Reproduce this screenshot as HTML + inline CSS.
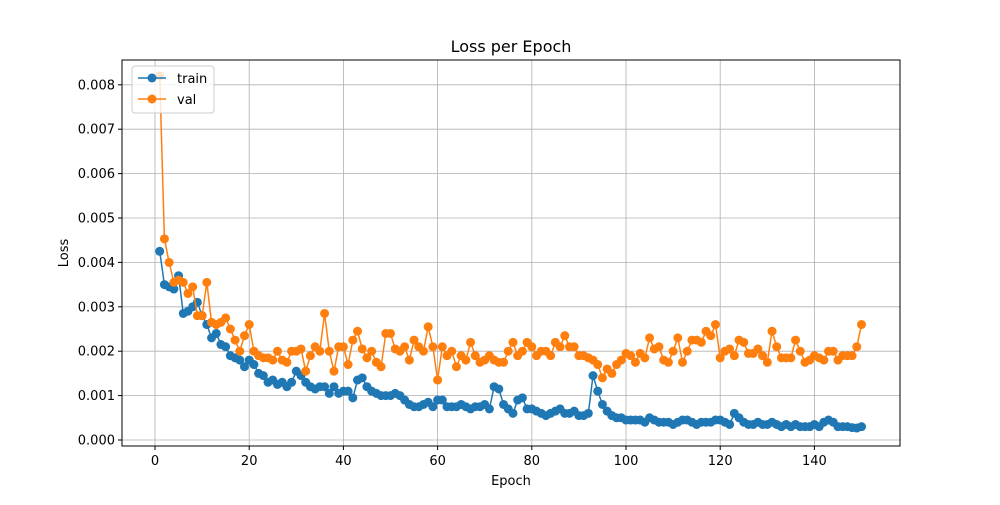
<!DOCTYPE html>
<html><head><meta charset="utf-8"><style>
body{margin:0;background:#fff;font-family:"Liberation Sans","DejaVu Sans",sans-serif}
svg text{font-family:"DejaVu Sans","Liberation Sans",sans-serif;fill:#000}
</style></head><body>
<svg id="chart" width="1000" height="500" xmlns="http://www.w3.org/2000/svg">
<rect width="1000" height="500" fill="#fff"/>
<text x="511" y="52" font-size="16" text-anchor="middle">Loss per Epoch</text>
<g id="grid"></g><g id="axes"></g><g id="series"></g>
<rect x="122" y="60" width="778" height="386" fill="none" stroke="#000" stroke-width="1"/>
<text x="511" y="485" font-size="13" text-anchor="middle">Epoch</text>
<text x="68" y="253" font-size="13" text-anchor="middle" transform="rotate(-90 68 253)">Loss</text>
<g>
<rect x="132" y="66" width="82" height="47" rx="3" fill="#fff" fill-opacity="0.8" stroke="#ccc"/>
<g><line x1="138" y1="78" x2="166" y2="78" stroke="#1f77b4" stroke-width="1.5"/><circle cx="152" cy="78" r="4.5" fill="#1f77b4"/><text x="177" y="83" font-size="13">train</text></g>
<g><line x1="138" y1="99" x2="166" y2="99" stroke="#ff7f0e" stroke-width="1.5"/><circle cx="152" cy="99" r="4.5" fill="#ff7f0e"/><text x="177" y="104" font-size="13">val</text></g>
</g>
</svg>
<script>
const xTicks=[0,20,40,60,80,100,120,140];
const yTicks=[0,0.001,0.002,0.003,0.004,0.005,0.006,0.007,0.008];
const yTickLabels=["0.000","0.001","0.002","0.003","0.004","0.005","0.006","0.007","0.008"];
const train=[.00425,.0035,.00345,.0034,.0037,.00285,.0029,.003,.0031,.0028,
.0026,.0023,.0024,.00215,.0021,.0019,.00185,.0018,.00165,.0018,
.0017,.0015,.00145,.0013,.00135,.00125,.0013,.0012,.0013,.00155,
.00145,.0013,.0012,.00115,.0012,.0012,.00105,.0012,.00105,.0011,
.0011,.00095,.00135,.0014,.0012,.0011,.00105,.001,.001,.001,
.00105,.001,.0009,.0008,.00075,.00075,.0008,.00085,.00075,.0009,
.0009,.00075,.00075,.00075,.0008,.00075,.0007,.00075,.00075,.0008,
.0007,.0012,.00115,.0008,.0007,.0006,.0009,.00095,.0007,.0007,
.00065,.0006,.00055,.0006,.00065,.0007,.0006,.0006,.00065,.00055,
.00055,.0006,.00145,.0011,.0008,.00065,.00055,.0005,.0005,.00045,
.00045,.00045,.00045,.0004,.0005,.00045,.0004,.0004,.0004,.00035,
.0004,.00045,.00045,.0004,.00035,.0004,.0004,.0004,.00045,.00045,
.0004,.00035,.0006,.0005,.0004,.00035,.00035,.0004,.00035,.00035,
.0004,.00035,.0003,.00035,.0003,.00035,.0003,.0003,.0003,.00035,
.0003,.0004,.00045,.0004,.0003,.0003,.0003,.00028,.00027,.0003];
const val=[.0082,.00453,.004,.00355,.0036,.00355,.0033,.00345,.0028,.0028,
.00355,.00265,.0026,.00265,.00275,.0025,.00225,.002,.00235,.0026,
.002,.0019,.00185,.00185,.0018,.002,.0018,.00175,.002,.002,
.00205,.00155,.0019,.0021,.002,.00285,.002,.00155,.0021,.0021,
.0017,.00225,.00245,.00205,.00185,.002,.00175,.00165,.0024,.0024,
.00205,.002,.0021,.0018,.00225,.0021,.002,.00255,.0021,.00135,
.0021,.0019,.002,.00165,.0019,.0018,.0022,.0019,.00175,.0018,
.0019,.0018,.00175,.00175,.002,.0022,.0019,.002,.0022,.0021,
.0019,.002,.002,.0019,.0022,.0021,.00235,.0021,.0021,.0019,
.0019,.00185,.0018,.0017,.0014,.0016,.0015,.0017,.0018,.00195,
.0019,.00175,.00195,.00185,.0023,.00205,.0021,.0018,.00175,.002,
.0023,.00175,.002,.00225,.00225,.0022,.00245,.00235,.0026,.00185,
.002,.00205,.0019,.00225,.0022,.00195,.00195,.00205,.0019,.00175,
.00245,.0021,.00185,.00185,.00185,.00225,.002,.00175,.0018,.0019,
.00185,.0018,.002,.002,.0018,.0019,.0019,.0019,.0021,.0026];
const NS="http://www.w3.org/2000/svg";
const X=e=>155+e*4.71, Y=v=>440-v*44400;
function mk(t,a,p){const el=document.createElementNS(NS,t);for(const k in a)el.setAttribute(k,a[k]);p.appendChild(el);return el;}
const grid=document.getElementById('grid'),axes=document.getElementById('axes'),ser=document.getElementById('series');
xTicks.forEach(t=>{const x=X(t);
 const g=mk('line',{x1:x,x2:x,y1:60,y2:446,stroke:'#b0b0b0','stroke-width':0.8},grid);
 
 
 mk('line',{x1:x,x2:x,y1:446,y2:450,stroke:'#000'},axes);
 const tx=mk('text',{x:x,y:465,'font-size':13,'text-anchor':'middle'},axes);tx.textContent=t;
 
 });
yTicks.forEach((t,i)=>{const y=Y(t);
 const g=mk('line',{x1:122,x2:900,y1:y,y2:y,stroke:'#b0b0b0','stroke-width':0.8},grid);
 
 
 mk('line',{x1:118,x2:122,y1:y,y2:y,stroke:'#000'},axes);
 const tx=mk('text',{x:115,y:y+4.5,'font-size':13,'text-anchor':'end'},axes);tx.textContent=yTickLabels[i];
 
 });
function draw(data,color,name){
 const pts=data.map((v,i)=>X(i+1)+','+Y(v)).join(' ');
 const pl=mk('polyline',{points:pts,fill:'none',stroke:color,'stroke-width':1.5},ser);
 
 
 data.forEach((v,i)=>{const c=mk('circle',{cx:X(i+1),cy:Y(v),r:4.5,fill:color},ser);
  
  });
}
draw(train,'#1f77b4','train');
draw(val,'#ff7f0e','val');
</script>
</body></html>
